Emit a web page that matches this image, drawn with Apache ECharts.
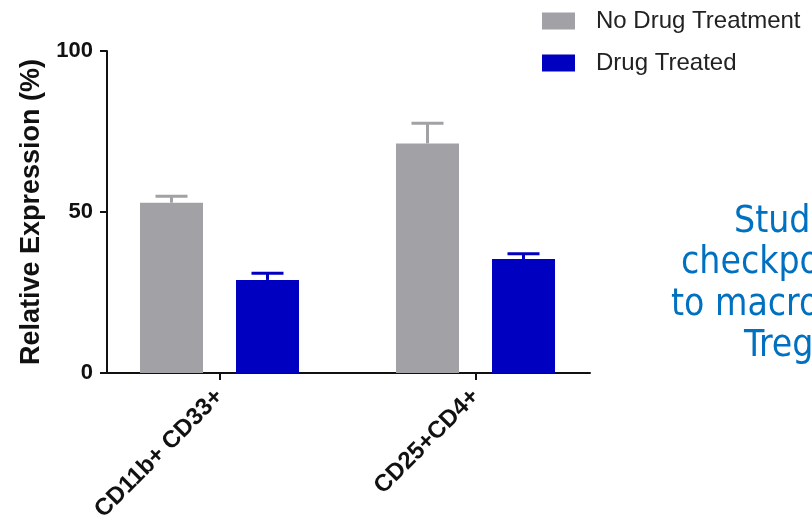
<!DOCTYPE html>
<html><head><meta charset="utf-8">
<script src="https://cdn.jsdelivr.net/npm/echarts@6/dist/echarts.min.js"></script>
<style>html,body{margin:0;padding:0;background:#fff}#c{width:812px;height:521px}</style>
</head><body><div id="c"></div>
<script>
// ---- data ----
const categories = ['CD11b+ CD33+', 'CD25+CD4+'];
const seriesNames = ['No Drug Treatment', 'Drug Treated'];
const noDrugMean = [52.9, 71.3];
const noDrugErr = [2.0, 6.3];
const drugMean = [28.9, 35.4];
const drugErr = [2.1, 1.6];
const yTicks = [0, 50, 100];
const yAxisName = 'Relative Expression (%)';
const sideText = ['Studi', 'checkpo', 'to macro', 'Treg'];

// ---- style / layout ----
const GRAY = '#A2A2A6', BLUE = '#0000C0', INK = '#111';
const BAR_W = 63, GAP_PX = 33;
const OFFSET = (BAR_W + GAP_PX) / 2;
const TOP = 51, BOTTOM = 148;
const SIDE_FONT = '37px "DejaVu Sans Condensed", "DejaVu Sans", sans-serif';

const chart = echarts.init(document.getElementById('c'));

function errSeries(name, means, errs, color, sign) {
  return {
    type: 'custom', name: name, xAxisIndex: 0, yAxisIndex: 0, z: 5,
    encode: { x: 0, y: 1 },
    data: categories.map((c, i) => [i, means[i], errs[i]]),
    renderItem: function (params, api) {
      const ci = api.value(0), m = api.value(1), e = api.value(2);
      const b = api.coord([ci, m]);
      const t = api.coord([ci, m + e]);
      const x = b[0] + sign * OFFSET;
      const st = { stroke: color, lineWidth: 3 };
      return { type: 'group', children: [
        { type: 'line', shape: { x1: x, y1: b[1], x2: x, y2: t[1] }, style: st },
        { type: 'line', shape: { x1: x - 16, y1: t[1], x2: x + 16, y2: t[1] }, style: st }
      ]};
    }
  };
}

function sideLine(i, x, y) {
  return { type: 'text', x: x, y: y, style: { text: sideText[i], fill: '#0070C0', font: SIDE_FONT, align: 'left', verticalAlign: 'middle' } };
}

const option = {
  animation: false,
  backgroundColor: '#fff',
  textStyle: { fontFamily: 'Arial, "Liberation Sans", sans-serif' },
  legend: {
    data: seriesNames, orient: 'vertical', left: 542, top: 9, padding: 0,
    itemWidth: 33, itemHeight: 17, itemGap: 18, icon: 'rect',
    selectedMode: false,
    textStyle: { fontSize: 24, color: '#222', fontFamily: 'Arial, "Liberation Sans", sans-serif', padding: [0, 0, 0, 16] }
  },
  grid: [
    { left: 91.5, right: 208.5, top: TOP, bottom: BOTTOM, containLabel: false, outerBoundsMode: 'none' },
    { left: 107, right: 222, top: TOP, bottom: BOTTOM, containLabel: false, outerBoundsMode: 'none' }
  ],
  xAxis: [
    { type: 'category', gridIndex: 0, data: categories,
      axisLine: { show: false },
      axisTick: { show: true, alignWithLabel: true, length: 7, lineStyle: { color: INK, width: 2 } },
      axisLabel: { rotate: 45, fontSize: 24, fontWeight: 'bold', color: INK, margin: 20, interval: 0 },
      splitLine: { show: false } },
    { type: 'value', gridIndex: 1, min: 0, max: 1,
      axisLine: { show: true, lineStyle: { color: INK, width: 2 } },
      axisTick: { show: false }, axisLabel: { show: false }, splitLine: { show: false } }
  ],
  yAxis: [
    { type: 'value', gridIndex: 0, min: yTicks[0], max: yTicks[yTicks.length - 1], interval: 50, show: false, splitLine: { show: false } },
    { type: 'value', gridIndex: 1, min: yTicks[0], max: yTicks[yTicks.length - 1], interval: 50,
      name: yAxisName, nameLocation: 'middle', nameGap: 62,
      nameTextStyle: { fontSize: 27, fontWeight: 'bold', color: INK },
      axisLine: { show: true, lineStyle: { color: INK, width: 2 } },
      axisTick: { show: true, length: 7, lineStyle: { color: INK, width: 2 } },
      axisLabel: { fontSize: 22, fontWeight: 'bold', color: INK, margin: 14 },
      splitLine: { show: false } }
  ],
  series: [
    { type: 'bar', name: seriesNames[0], xAxisIndex: 0, yAxisIndex: 0, data: noDrugMean,
      barWidth: BAR_W, barGap: (GAP_PX / BAR_W * 100).toFixed(1) + '%', itemStyle: { color: GRAY } },
    { type: 'bar', name: seriesNames[1], xAxisIndex: 0, yAxisIndex: 0, data: drugMean,
      barWidth: BAR_W, itemStyle: { color: BLUE } },
    errSeries('err0', noDrugMean, noDrugErr, GRAY, -1),
    errSeries('err1', drugMean, drugErr, BLUE, 1)
  ],
  graphic: [
    sideLine(0, 734, 222),
    sideLine(1, 681, 263),
    sideLine(2, 671, 305),
    sideLine(3, 744, 346)
  ]
};
chart.setOption(option);
</script></body></html>
